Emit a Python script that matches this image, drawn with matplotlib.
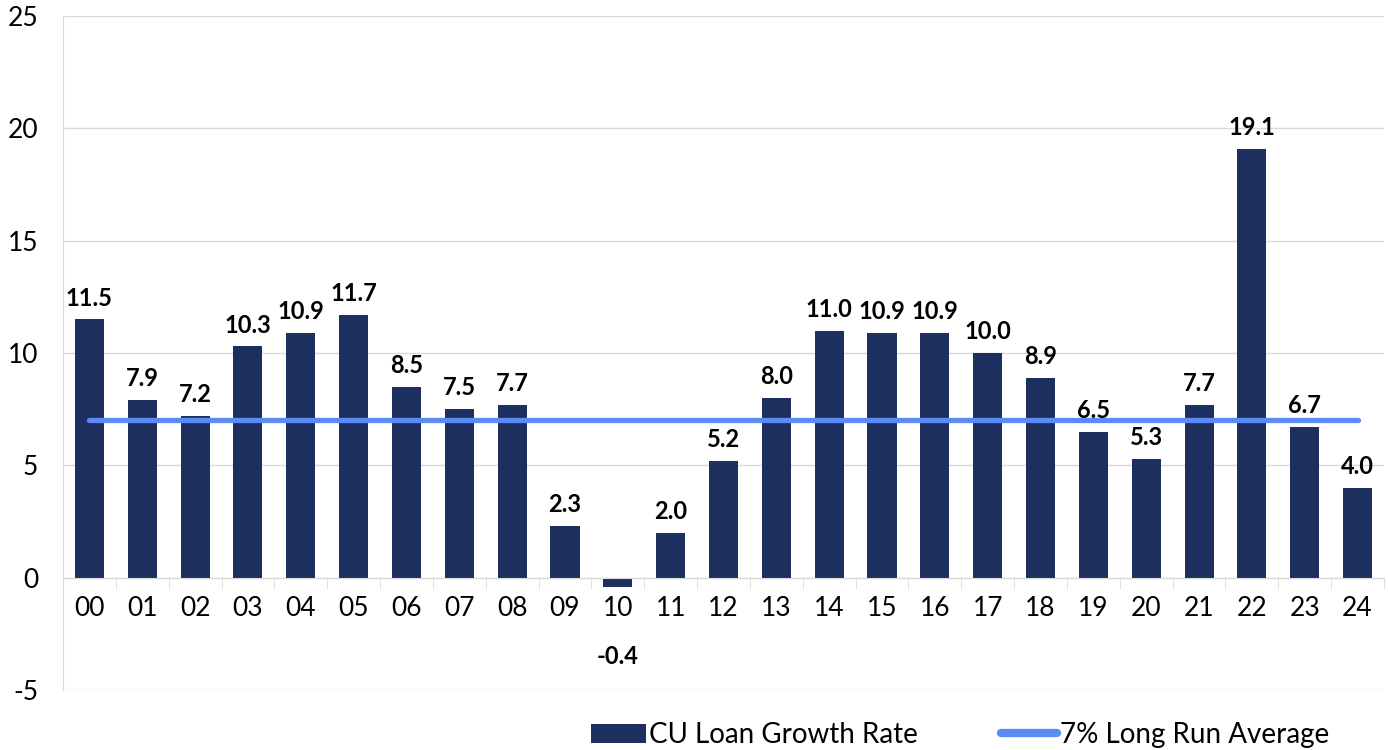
import numpy as np
import matplotlib
matplotlib.use("Agg")
import matplotlib.pyplot as plt
from matplotlib.lines import Line2D
from matplotlib.patches import Patch

# Chart data
years = ["00", "01", "02", "03", "04", "05", "06", "07", "08", "09", "10", "11", "12",
         "13", "14", "15", "16", "17", "18", "19", "20", "21", "22", "23", "24"]
growth = [11.5, 7.9, 7.2, 10.3, 10.9, 11.7, 8.5, 7.5, 7.7, 2.3, -0.4, 2.0, 5.2,
          8.0, 11.0, 10.9, 10.9, 10.0, 8.9, 6.5, 5.3, 7.7, 19.1, 6.7, 4.0]
long_run_avg = 7.0

bar_color = "#1C2F5E"
line_color = "#5B8CF5"
grid_color = "#D9D9D9"

plt.rcParams['font.family'] = ['Lato', 'DejaVu Sans']
plt.rcParams['axes.unicode_minus'] = False

fig = plt.figure(figsize=(13.88, 7.5), dpi=100)
ax = fig.add_axes([63 / 1388, 1 - 690 / 750, 1321 / 1388, 674 / 750])

x = np.arange(len(years))
ax.bar(x, growth, width=0.55, color=bar_color, zorder=2)
ax.plot([x[0], x[-1]], [long_run_avg, long_run_avg], color=line_color,
        linewidth=3.8, solid_capstyle='round', zorder=3)

# data labels
for xi, v in zip(x, growth):
    if v >= 0:
        ax.annotate(f"{v:.1f}", (xi, v), xytext=(0, 7), textcoords="offset points",
                    ha="center", va="bottom", fontsize=17, fontweight="bold", color="black")
    else:
        ax.annotate(f"{v:.1f}", (xi, v), xytext=(0, -50), textcoords="offset points",
                    ha="center", va="center", fontsize=17, fontweight="bold", color="black")

ax.set_xlim(-0.5, len(years) - 0.5)
ax.set_ylim(-5, 25)
ax.set_yticks(np.arange(-5, 26, 5))
ax.yaxis.grid(True, color=grid_color, linewidth=1, zorder=0)
ax.tick_params(axis="y", length=0, pad=18, labelsize=19)

# x axis on the zero line, ticks between categories
ax.spines["bottom"].set_position(("data", 0))
ax.spines["bottom"].set_color(grid_color)
ax.spines["bottom"].set_zorder(4)
ax.spines["left"].set_color(grid_color)
ax.spines["top"].set_visible(False)
ax.spines["right"].set_visible(False)
ax.set_xticks(x)
ax.set_xticklabels(years)
ax.set_xticks(np.arange(-0.5, len(years), 1), minor=True)
ax.tick_params(axis="x", which="major", length=0, pad=13, labelsize=19)
ax.tick_params(axis="x", which="minor", length=8, color=grid_color)

handles = [Patch(facecolor=bar_color, edgecolor="none"),
           Line2D([0], [0], color=line_color, linewidth=6, solid_capstyle="round")]
fig.legend(handles, ["CU Loan Growth Rate", "7% Long Run Average"], ncol=2,
           loc="center", bbox_to_anchor=(960 / 1388, 1 - 735 / 750), frameon=False,
           fontsize=20, handlelength=2.0, handletextpad=0.1, columnspacing=3.0)

fig.savefig("out.png", dpi=100)
